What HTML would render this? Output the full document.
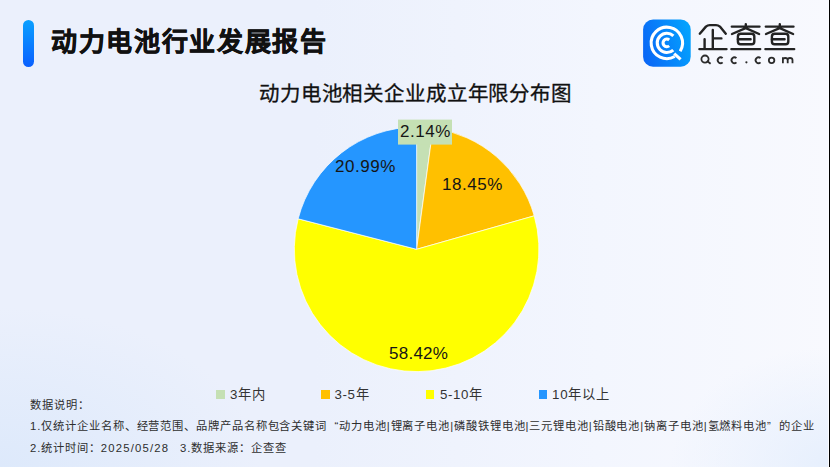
<!DOCTYPE html>
<html lang="zh-CN"><head><meta charset="utf-8">
<style>
html,body{margin:0;padding:0;}
body{width:830px;height:467px;overflow:hidden;position:relative;font-family:"Liberation Sans",sans-serif;
background:radial-gradient(ellipse 260px 160px at 0px 467px,rgba(221,233,251,1) 0%,rgba(221,233,251,0) 100%),radial-gradient(ellipse 160px 120px at 830px 467px,rgba(230,239,253,1) 0%,rgba(230,239,253,0) 100%),linear-gradient(90deg,#ebf0fc 0%,#ebf0fc 38%,#f3f6fe 72%,#f8f9fe 100%);}
.abs{position:absolute;white-space:nowrap;}
#bar{left:23px;top:20px;width:11px;height:47px;border-radius:6px;background:linear-gradient(180deg,#0aa0ff,#0a60ff);}
#title{left:51px;top:24.8px;font-size:26px;font-weight:900;-webkit-text-stroke:0.6px #111;color:#111;line-height:34px;letter-spacing:1.67px;}
#ctitle{left:259px;top:81px;font-size:20.5px;letter-spacing:0.86px;color:#111;line-height:26px;-webkit-text-stroke:0.3px #111;}
.note{font-size:11.3px;color:#2e2e2e;line-height:20px;letter-spacing:0.91px;}
.ql,.qr{display:inline-block;width:12px;}
.ql{text-align:right;}
.leg{font-size:13.3px;color:#333;line-height:18px;letter-spacing:0.8px;}
.lt{letter-spacing:0.6px;}
.sq{position:absolute;width:8.7px;height:8.7px;}
.lbl{font-size:17px;color:#151515;line-height:20px;letter-spacing:0.55px;}
</style></head><body>
<div id="bar" class="abs"></div>
<div id="title" class="abs">动力电池行业发展报告</div>

<svg class="abs" style="left:0;top:0" width="830" height="467">
<path d="M416.6,249.3 L416.60,127.00 A122.3,122.3 0 0 1 432.99,128.10 Z" fill="#c5e0b4" stroke="#fff" stroke-width="0.7"/>
<path d="M416.6,249.3 L432.99,128.10 A122.3,122.3 0 0 1 534.23,215.84 Z" fill="#ffc000" stroke="#fff" stroke-width="0.7"/>
<path d="M416.6,249.3 L534.23,215.84 A122.3,122.3 0 1 1 298.16,218.81 Z" fill="#ffff00" stroke="#fff" stroke-width="0.7"/>
<path d="M416.6,249.3 L298.16,218.81 A122.3,122.3 0 0 1 416.60,127.00 Z" fill="#2596ff" stroke="#fff" stroke-width="0.7"/>
<rect x="398" y="119.6" width="54" height="25" fill="#c5e0b4"/>
</svg>
<div class="abs lbl" style="left:400px;top:122px">2.14%</div>
<div class="abs lbl" style="left:442px;top:174.5px">18.45%</div>
<div class="abs lbl" style="left:335px;top:157px">20.99%</div>
<div class="abs lbl" style="left:389px;top:344px;letter-spacing:0.25px">58.42%</div>

<div id="ctitle" class="abs">动力电池相关企业成立年限分布图</div>

<div class="sq" style="left:216.1px;top:390.3px;background:#c5e0b4"></div>
<div class="abs leg" style="left:230px;top:385.5px">3年内</div>
<div class="sq" style="left:320.9px;top:390.3px;background:#ffc000"></div>
<div class="abs leg" style="left:334.5px;top:385.5px"><span class="lt">3-5</span>年</div>
<div class="sq" style="left:425.8px;top:390.3px;background:#ffff00"></div>
<div class="abs leg" style="left:440px;top:385.5px"><span class="lt">5-10</span>年</div>
<div class="sq" style="left:538.6px;top:390.3px;background:#2596ff"></div>
<div class="abs leg" style="left:552px;top:385.5px">10年以上</div>

<div class="abs note" style="left:30px;top:395px">数据说明：</div>
<div class="abs note" style="left:30px;top:416px">1.仅统计企业名称、经营范围、品牌产品名称包含关键词<span class="ql">“</span>动力电池|锂离子电池|磷酸铁锂电池|三元锂电池|铅酸电池|钠离子电池|氢燃料电池<span class="qr">”</span>的企业</div>
<div class="abs note" style="left:30px;top:437.5px">2.统计时间：<span style="letter-spacing:1.2px">2025/05/28</span></div>
<div class="abs note" style="left:180px;top:437.5px">3.数据来源：企查查</div>

<!-- logo -->
<svg class="abs" style="left:0;top:0" width="830" height="467" viewBox="0 0 830 467">
<defs><linearGradient id="lg" x1="0" y1="0.65" x2="1" y2="0.35"><stop offset="0" stop-color="#0a68f6"/><stop offset="1" stop-color="#04a2fe"/></linearGradient></defs>
<rect x="643.1" y="19.6" width="47.6" height="47.2" rx="10" fill="url(#lg)"/>
<g fill="none" stroke="#fff" stroke-width="3.1">
<path d="M674.70,56.50 A15.7,15.7 0 1 1 680.16,51.22"/>
<path d="M673.27,50.03 A9.6,9.6 0 1 1 673.40,35.88"/>
<path d="M669.19,45.89 A3.8,3.8 0 1 1 669.19,39.91"/>
<path d="M674.2,53.6 L680.6,59.4"/>
</g>
<g fill="none" stroke="#232323" stroke-width="2.4" stroke-linecap="round" stroke-linejoin="round">
<path d="M699.8,33.7 L705.9,26.6 Q707.6,25.1 709.8,25.1 L716,25.1 Q718.2,25.1 719.9,26.6 L725.8,33.7"/>
<path d="M712.8,30 L712.8,48.8 M704.6,39.3 L704.6,48.8 M712.8,38.4 L721.4,38.4 M699.4,49.1 L726.5,49.1"/>
<g>
<path d="M745.8,24.2 L745.8,28 M731.8,26.6 L759.5,26.6 M745.6,28.2 L732,34 M745.8,28.2 L759.1,34 M731.4,49.1 L760.2,49.1 M737.9,39.2 L750.6,39.2"/>
<rect x="737.9" y="33.7" width="16.4" height="10.6" rx="2.7"/>
</g>
<g transform="translate(34,0)">
<path d="M745.8,24.2 L745.8,28 M731.8,26.6 L759.5,26.6 M745.6,28.2 L732,34 M745.8,28.2 L759.1,34 M731.4,49.1 L760.2,49.1 M737.9,39.2 L750.6,39.2"/>
<rect x="737.9" y="33.7" width="16.4" height="10.6" rx="2.7"/>
</g>
</g>
<g fill="none" stroke="#2b2b2b" stroke-width="1.8">
<circle cx="705" cy="59.1" r="3.6"/>
<path d="M706.8,60.8 L710.6,63.8"/>
<path d="M722.62,58.23 A2.85,2.85 0 1 0 722.62,62.27"/>
<path d="M736.42,58.23 A2.85,2.85 0 1 0 736.42,62.27"/>
<path d="M760.52,58.23 A2.85,2.85 0 1 0 760.52,62.27"/>
<circle cx="771.6" cy="60.3" r="2.75"/>
<path d="M782.9,63.3 L782.9,57.3 M782.9,59.5 Q782.9,58 785.2,58 Q787.7,58 787.7,60 L787.7,63.3 M787.7,60 Q787.7,58 790,58 Q792.5,58 792.5,60 L792.5,63.3"/>
</g>
<circle cx="746.4" cy="62.3" r="1.1" fill="#2b2b2b"/>
</svg>
<div class="abs" style="left:829px;top:0;width:1px;height:467px;background:#000"></div>
<div class="abs" style="left:828px;top:0;width:1px;height:467px;background:#fbfcff"></div>
</body></html>
